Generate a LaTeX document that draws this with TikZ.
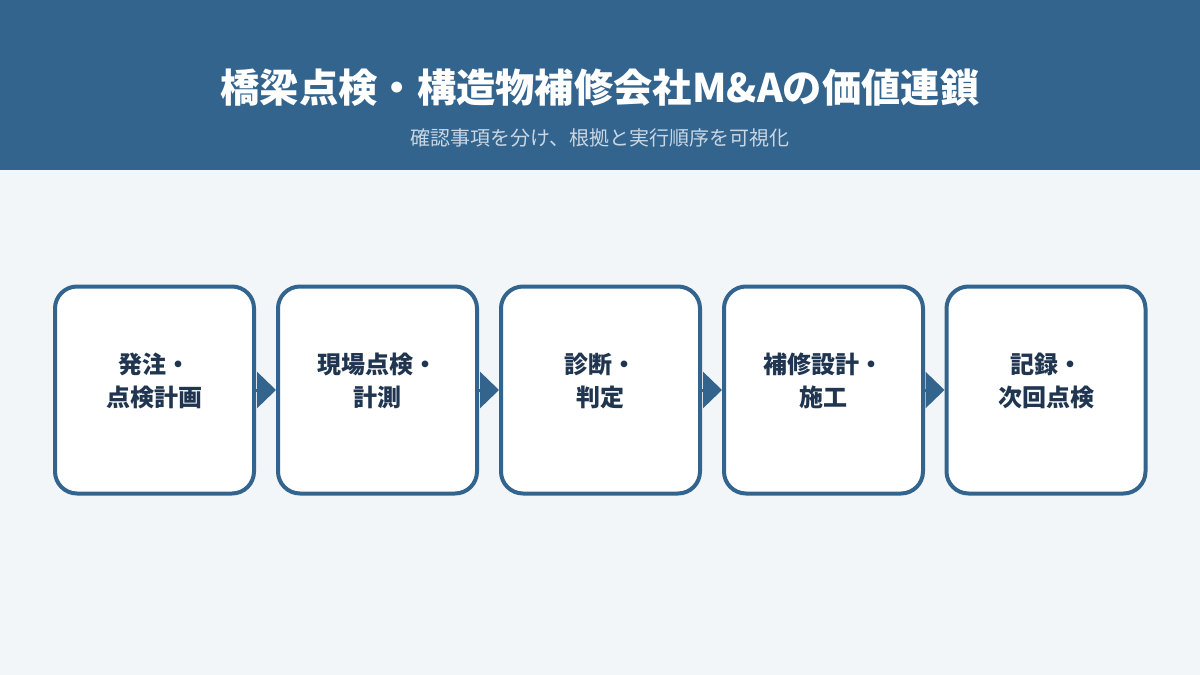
\documentclass[tikz,border=0pt]{standalone}
\usepackage{fontspec}
\setmainfont{Noto Sans CJK JP}
\usetikzlibrary{arrows.meta}
\definecolor{hdr}{HTML}{33648E}
\definecolor{bg}{HTML}{F3F6F8}
\definecolor{bordc}{HTML}{33648E}
\definecolor{txtc}{HTML}{1F3550}
\definecolor{subc}{HTML}{C9D7E4}
\begin{document}
\begin{tikzpicture}[x=1pt,y=-1pt,
  stepbox/.style={draw=bordc, line width=4pt, fill=white, rounded corners=22pt,
    minimum width=199pt, minimum height=207pt, inner sep=0pt},
  steptext/.style={text=txtc, font=\fontsize{24}{33.6}\selectfont\bfseries, align=center, inner sep=0pt},
  flow/.style={draw=bordc, line width=3pt, -{Triangle[length=19pt,width=36pt]}}]
\useasboundingbox (0,0) rectangle (1200,675);
\fill[bg] (0,0) rectangle (1200,675);
\fill[hdr] (0,0) rectangle (1200,170);
\node[text=white, font=\fontsize{39.3}{45}\selectfont\bfseries, inner sep=0pt] (title) at (600,88) {橋梁点検・構造物補修会社M\&Aの価値連鎖};
\node[text=subc, font=\fontsize{20}{24}\selectfont, inner sep=0pt] (sub) at (600,138) {確認事項を分け、根拠と実行順序を可視化};
\foreach \i/\x in {1/154.5,2/377.5,3/600.5,4/823.5,5/1046}{
  \node[stepbox] (b\i) at (\x,390) {};
}
\node[steptext] (t1) at (154.5,381) {発注・\\点検計画};
\node[steptext] (t2) at (377.5,381) {現場点検・\\計測};
\node[steptext] (t3) at (600.5,381) {診断・\\判定};
\node[steptext] (t4) at (823.5,381) {補修設計・\\施工};
\node[steptext] (t5) at (1046,381) {記録・\\次回点検};
\foreach \a/\b in {1/2,2/3,3/4,4/5}{
  \draw[flow] (b\a.east) -- (b\b.west);
}
\end{tikzpicture}
\end{document}
